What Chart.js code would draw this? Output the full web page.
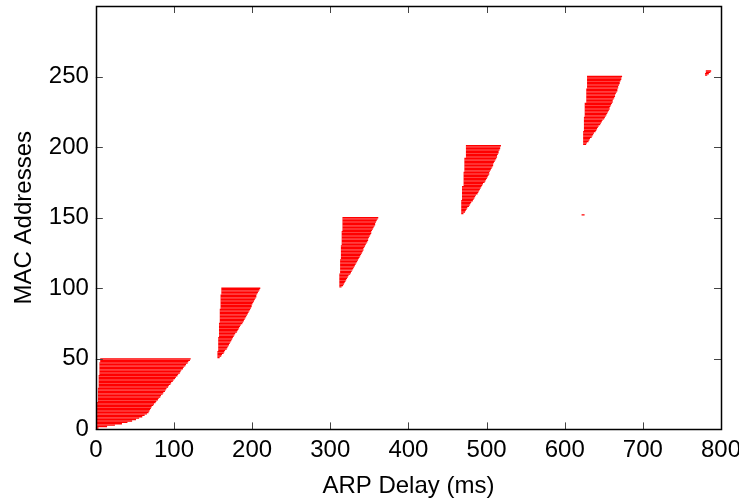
<!DOCTYPE html>
<html>
<head>
<meta charset="utf-8">
<script src="https://cdn.jsdelivr.net/npm/chart.js@4"></script>
<style>
  html, body { margin: 0; padding: 0; background: #fff; }
</style>
</head>
<body>
<canvas id="arp-chart" width="739" height="503"></canvas>
<script>
// axis ticks
const xTickValues = [0, 100, 200, 300, 400, 500, 600, 700, 800];
const yTickValues = [0, 50, 100, 150, 200, 250];

// MAC 1..50
const group1Start = [0, 1, 1, 1, 1, 1, 1, 1, 1, 2, 2, 2, 2, 2, 2, 2, 2, 2, 2, 3, 3, 3, 3, 3, 3, 3, 3, 3, 3, 4,
  4, 4, 4, 4, 4, 4, 4, 4, 5, 5, 5, 5, 5, 5, 5, 5, 5, 6, 6, 6];
const group1End = [3, 14, 24, 33, 40, 46, 51, 55, 59, 62, 65, 67, 68, 69, 70, 71, 73, 74, 76, 77, 79, 80, 82, 83,
  85, 86, 88, 89, 90, 92, 93, 95, 96, 98, 99, 101, 102, 104, 105, 107, 108, 109, 111, 112, 114, 115, 117, 118, 120, 121];

// MAC 51..100
const group2Start = [156, 156, 156, 156, 156, 157, 157, 157, 157, 157, 157, 157, 157, 157, 157, 158, 158, 158, 158, 158,
  158, 158, 158, 158, 158, 159, 159, 159, 159, 159, 159, 159, 159, 159, 159, 160, 160, 160, 160, 160,
  160, 160, 160, 160, 160, 161, 161, 161, 161, 161];
const group2End = [158, 160, 161, 163, 164, 165, 167, 168, 169, 170, 171, 172, 173, 174, 175, 176, 177, 178, 180, 181,
  182, 183, 184, 185, 187, 188, 189, 190, 191, 192, 193, 194, 195, 196, 197, 198, 199, 199, 200, 201,
  202, 203, 204, 205, 205, 206, 207, 208, 209, 210];

// MAC 101..150
const group3Start = [312, 312, 312, 312, 312, 312, 312, 312, 312, 312, 313, 313, 313, 313, 313, 313, 313, 313, 313, 313,
  314, 314, 314, 314, 314, 314, 314, 314, 314, 314, 315, 315, 315, 315, 315, 315, 315, 315, 315, 315,
  316, 316, 316, 316, 316, 316, 316, 316, 316, 316];
const group3End = [314, 316, 317, 318, 319, 320, 321, 322, 323, 325, 326, 327, 328, 329, 330, 331, 332, 333, 334, 335,
  336, 337, 338, 339, 340, 341, 342, 342, 343, 344, 345, 346, 347, 348, 348, 349, 350, 351, 352, 352,
  353, 354, 355, 356, 357, 357, 358, 359, 360, 361];

// MAC 152 (late reply)
const group152Start = [622];
const group152End = [625];

// MAC 153..201
const group4Start = [468, 468, 468, 468, 468, 468, 468, 468, 468, 468, 469, 469, 469, 469, 469, 469, 469, 469, 469, 469,
  471, 471, 471, 471, 471, 471, 471, 471, 471, 471, 472, 472, 472, 472, 472, 472, 472, 472, 472, 472,
  474, 474, 474, 474, 474, 474, 474, 474, 474];
const group4End = [470, 472, 473, 474, 475, 477, 478, 479, 480, 482, 483, 484, 485, 486, 488, 489, 490, 491, 492, 493,
  494, 495, 497, 498, 499, 500, 501, 502, 503, 503, 504, 505, 506, 507, 508, 508, 509, 510, 511, 512,
  513, 513, 514, 515, 515, 516, 517, 517, 518];

// MAC 202..250
const group5Start = [624, 624, 624, 624, 624, 624, 624, 624, 624, 624, 625, 625, 625, 625, 625, 625, 625, 625, 625, 625,
  626, 626, 626, 626, 626, 626, 626, 626, 626, 626, 628, 628, 628, 628, 628, 628, 628, 628, 628, 628,
  629, 629, 629, 629, 629, 629, 629, 629, 629];
const group5End = [627, 628, 630, 631, 632, 634, 635, 636, 637, 639, 640, 641, 642, 643, 645, 646, 647, 648, 650, 651,
  652, 653, 654, 655, 656, 657, 657, 658, 659, 660, 661, 661, 662, 663, 664, 664, 665, 666, 667, 667,
  668, 668, 669, 670, 670, 671, 672, 672, 673];

// MAC 251..254
const group6Start = [780, 780, 781, 781];
const group6End = [782, 784, 786, 787];

const groups = [
  { firstMac: 1, start: group1Start, end: group1End },
  { firstMac: 51, start: group2Start, end: group2End },
  { firstMac: 101, start: group3Start, end: group3End },
  { firstMac: 152, start: group152Start, end: group152End },
  { firstMac: 153, start: group4Start, end: group4End },
  { firstMac: 202, start: group5Start, end: group5End },
  { firstMac: 251, start: group6Start, end: group6End },
];

const points = [];
groups.forEach(g => g.end.forEach((e, i) => points.push({ y: g.firstMac + i, x: [g.start[i], e] })));

const FONT = { family: "'Liberation Sans', Arial, sans-serif", size: 24 };

// gnuplot style frame with inward ticks on all four sides
const frameTicks = {
  id: "frameTicks",
  afterDatasetsDraw(chart) {
    const { ctx, chartArea: a, scales: { x, y } } = chart;
    const len = 7;
    ctx.save();
    ctx.strokeStyle = "#444";
    ctx.lineWidth = 1;
    ctx.beginPath();
    xTickValues.forEach(v => {
      const px = Math.round(x.getPixelForValue(v)) + 0.5;
      ctx.moveTo(px, a.bottom); ctx.lineTo(px, a.bottom - len);
      ctx.moveTo(px, a.top); ctx.lineTo(px, a.top + len);
    });
    yTickValues.forEach(v => {
      const py = Math.round(y.getPixelForValue(v)) + 0.5;
      ctx.moveTo(a.left, py); ctx.lineTo(a.left + len, py);
      ctx.moveTo(a.right, py); ctx.lineTo(a.right - len, py);
    });
    ctx.stroke();
    ctx.strokeStyle = "#000";
    ctx.lineWidth = 1.5;
    ctx.strokeRect(Math.round(a.left) + 0.5, Math.round(a.top) + 0.5, Math.round(a.right - a.left), Math.round(a.bottom - a.top));
    ctx.restore();
  }
};

new Chart(document.getElementById("arp-chart"), {
  type: "bar",
  data: {
    datasets: [{
      label: "ARP delay",
      data: points,
      backgroundColor: "rgb(255,0,0)",
      borderWidth: 0,
      barThickness: 0.75,
    }],
  },
  plugins: [frameTicks],
  options: {
    indexAxis: "y",
    responsive: false,
    animation: false,
    layout: { padding: { top: 6, right: 0, left: 0, bottom: 2 } },
    plugins: { legend: { display: false }, tooltip: { enabled: false } },
    scales: {
      x: {
        type: "linear",
        min: 0, max: 800,
        afterBuildTicks: s => { s.ticks = xTickValues.map(v => ({ value: v })); },
        afterFit: s => { s.paddingRight = 18; },
        grid: { display: false, drawTicks: false },
        border: { display: false },
        ticks: { color: "#000", font: FONT, padding: 7, maxRotation: 0 },
        title: { display: true, text: "ARP Delay (ms)", color: "#000", font: FONT, padding: { top: 0, bottom: 0 } },
      },
      y: {
        type: "linear",
        offset: false,
        min: 0, max: 300,
        afterBuildTicks: s => { s.ticks = yTickValues.map(v => ({ value: v })); },
        afterFit: s => { s.paddingTop = 0; },
        grid: { display: false, drawTicks: false },
        border: { display: false },
        ticks: { color: "#000", font: FONT, padding: 7 },
        title: { display: true, text: "MAC Addresses", color: "#000", font: FONT, padding: { top: 10, bottom: 3 } },
      },
    },
  },
});
</script>
</body>
</html>
